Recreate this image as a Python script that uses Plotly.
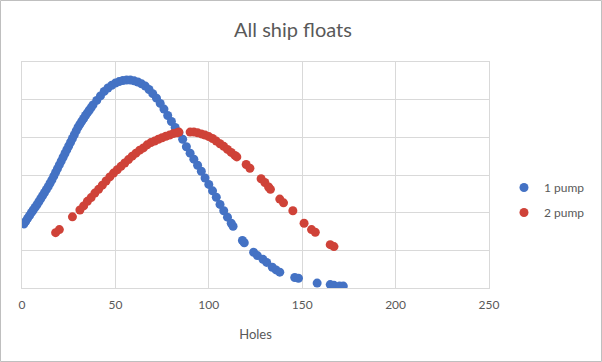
import plotly.graph_objects as go

# 1 pump series (holes, value)
pump1_x = [1, 2, 3, 4, 5, 6, 7, 8, 9, 10, 11, 12, 13, 14, 15, 16, 17, 18, 19, 20,
           21, 22, 23, 24, 25, 26, 27, 28, 29, 30, 31, 32, 33, 34, 35, 36, 37, 38,
           40, 42, 44, 46, 48, 50, 52, 54, 56, 58, 60, 62, 64, 66, 68, 70, 72, 74, 76, 78,
           80, 82, 84, 86, 88, 90, 92, 94, 96, 98, 100, 102, 104, 106, 108, 110, 112, 113,
           118, 119, 124, 126, 129, 131, 134, 136, 138, 146, 148, 158, 165, 167, 170, 172]
pump1_y = [1.70, 1.77, 1.85, 1.92, 2.00, 2.07, 2.14, 2.21, 2.29, 2.37, 2.45, 2.53, 2.61, 2.69,
           2.78, 2.87, 2.97, 3.07, 3.17, 3.27, 3.37, 3.47, 3.57, 3.67, 3.77, 3.87, 3.97, 4.07,
           4.17, 4.27, 4.35, 4.43, 4.50, 4.58, 4.65, 4.72, 4.79, 4.86,
           4.98, 5.10, 5.22, 5.31, 5.38, 5.44, 5.48, 5.51, 5.52, 5.52, 5.50, 5.47, 5.42, 5.36,
           5.27, 5.16, 5.04, 4.90, 4.75, 4.58, 4.42, 4.26, 4.12, 3.95, 3.75, 3.58, 3.42, 3.26,
           3.10, 2.92, 2.75, 2.58, 2.41, 2.22, 2.05, 1.88, 1.72, 1.64, 1.26, 1.20, 0.95, 0.86,
           0.76, 0.68, 0.55, 0.48, 0.42, 0.28, 0.26, 0.13, 0.09, 0.07, 0.05, 0.05]

# 2 pump series
pump2_x = [18, 20, 27, 31, 33, 35, 37, 39, 41, 43, 45, 47, 49, 51, 53, 55, 57, 59, 61,
           63, 65, 67, 69, 71, 73, 75, 77, 79, 81, 83, 84, 90, 92, 94, 96, 98, 100, 102, 104,
           106, 108, 110, 112, 114, 115, 120, 122, 128, 130, 132, 133, 138, 140, 145, 151,
           155, 157, 165, 167]
pump2_y = [1.47, 1.55, 1.89, 2.07, 2.18, 2.30, 2.40, 2.52, 2.62, 2.73, 2.84, 2.95, 3.05,
           3.14, 3.23, 3.32, 3.41, 3.50, 3.58, 3.66, 3.72, 3.80, 3.86, 3.90, 3.95, 3.99, 4.03,
           4.06, 4.10, 4.12, 4.14, 4.14, 4.14, 4.12, 4.09, 4.06, 4.02, 3.97, 3.90, 3.83, 3.76,
           3.68, 3.60, 3.52, 3.48, 3.28, 3.18, 2.90, 2.80, 2.68, 2.62, 2.36, 2.26, 2.05, 1.72,
           1.55, 1.48, 1.15, 1.10]

x_ticks = [0, 50, 100, 150, 200, 250]

FONT = "Lato, 'Open Sans', sans-serif"
GRID = "#d9d9d9"
TXT = "#595959"

W, H = 602, 362
L, R, T, B = 22, 0, 62, 74
PW = W - L - R
PH = H - T - B

fig = go.Figure()
fig.add_trace(go.Scatter(x=pump1_x, y=pump1_y, mode="markers", name="1 pump",
                         legendgroup="a", marker=dict(color="#4472C4", size=9)))
fig.add_trace(go.Scatter(x=pump2_x, y=pump2_y, mode="markers", name="2 pump",
                         legendgroup="b", marker=dict(color="#CF4238", size=9)))

fig.update_layout(
    width=W, height=H, autosize=False,
    margin=dict(l=L, r=R, t=T, b=B, autoexpand=False),
    paper_bgcolor="white", plot_bgcolor="white",
    font=dict(family=FONT, color=TXT, size=12),
    title=dict(text="All ship floats", x=293 / W, xanchor="center",
               y=1 - 30 / H, yanchor="middle", font=dict(size=20, color=TXT)),
    xaxis=dict(domain=[0, (489 - L) / PW], range=[0, 250], tickvals=x_ticks,
               showgrid=True, gridcolor=GRID, gridwidth=1, automargin=False,
               zeroline=False, showline=True, linecolor=GRID, mirror=True,
               ticks="outside", ticklen=6, tickcolor="rgba(0,0,0,0)",
               tickfont=dict(size=12, color=TXT),
               title=dict(text="Holes", font=dict(size=13, color=TXT), standoff=18)),
    yaxis=dict(range=[0, 6], dtick=1, showgrid=True, gridcolor=GRID, gridwidth=1,
               zeroline=False, showline=True, linecolor=GRID, mirror=True,
               showticklabels=False, automargin=False),
    legend=dict(x=(504 - L) / PW, y=(288 - 200) / PH, xanchor="left", yanchor="middle",
                font=dict(size=12, color=TXT), itemwidth=30, tracegroupgap=6,
                bgcolor="rgba(0,0,0,0)"),
    showlegend=True,
)

fig.add_shape(type="rect", xref="paper", yref="paper",
              x0=(0.5 - L) / PW, x1=(601.5 - L) / PW, y0=-(B - 0.5) / PH, y1=(H - B - 0.5) / PH,
              line=dict(color="#bfbfbf", width=1), fillcolor="rgba(0,0,0,0)", layer="below")

fig.write_html("out.html", config={"displayModeBar": False},
               post_script="document.body.style.margin='0';document.body.style.padding='0';")
